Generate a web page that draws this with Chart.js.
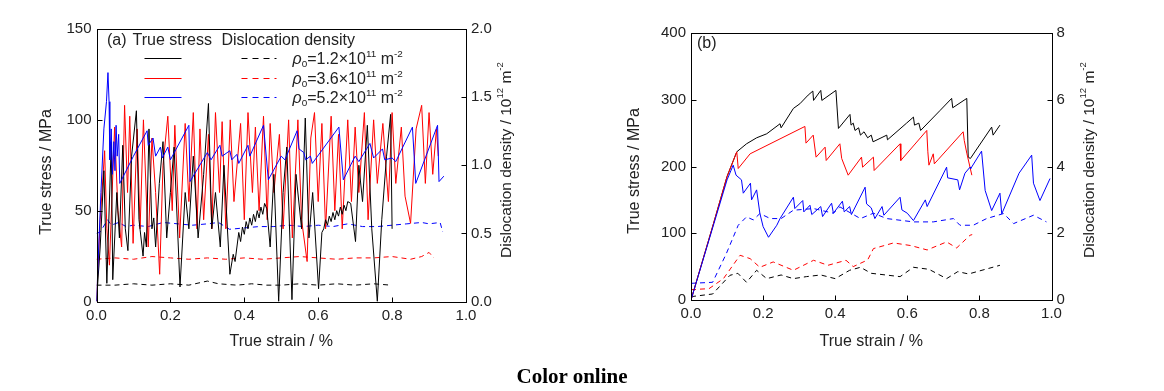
<!DOCTYPE html>
<html>
<head>
<meta charset="utf-8">
<script src="https://cdn.jsdelivr.net/npm/chart.js@4.4.0/dist/chart.umd.min.js"></script>
<style>
  body { margin: 0; background: #fff; }
  #wrap { position: relative; width: 1164px; height: 391px; }
  #chartA { position: absolute; left: 0; top: 0; }
  #chartB { position: absolute; left: 580px; top: 0; }
  #note { position: absolute; left: 0; width: 1144px; top: 364px; text-align: center;
          font: bold 21px "Liberation Serif", "Times New Roman", serif; color: #000; }
</style>
</head>
<body>
<div id="wrap">
  <canvas id="chartA" width="580" height="391"></canvas>
  <canvas id="chartB" width="584" height="391"></canvas>
  <div id="note">Color online</div>
</div>
<script>
// ---- panel (a): true stress (MPa) and dislocation density (1e12 m^-2) vs true strain (%)
var aStressBlack = [[0,0],[0.01,30],[0.02,72],[0.028,10],[0.04,88],[0.044,12],[0.055,60],[0.062,35],[0.071,86],[0.078,40],[0.085,28],[0.095,80],[0.108,105],[0.115,45],[0.126,25],[0.13,38],[0.135,30],[0.142,95],[0.15,40],[0.155,46],[0.16,30],[0.17,65],[0.18,88],[0.19,35],[0.2,60],[0.21,85],[0.226,8],[0.24,60],[0.25,40],[0.262,80],[0.275,35],[0.29,70],[0.303,109],[0.312,40],[0.322,60],[0.335,30],[0.345,75],[0.361,15],[0.37,26],[0.375,22],[0.38,30],[0.385,38],[0.39,33],[0.395,41],[0.4,37],[0.405,44],[0.41,40],[0.415,46],[0.42,42],[0.425,48],[0.43,44],[0.435,50],[0.44,46],[0.445,52],[0.45,48],[0.455,54],[0.461,51],[0.47,30],[0.48,70],[0.493,0],[0.505,60],[0.515,85],[0.529,1],[0.54,70],[0.555,40],[0.565,101],[0.575,35],[0.585,60],[0.601,7],[0.61,38],[0.615,40],[0.62,45],[0.625,42],[0.63,47],[0.635,44],[0.64,49],[0.645,45],[0.65,50],[0.655,47],[0.66,52],[0.665,48],[0.67,53],[0.675,50],[0.68,55],[0.688,54],[0.701,33],[0.71,75],[0.72,55],[0.733,97],[0.745,40],[0.76,0],[0.772,45],[0.785,80],[0.796,103],[0.8,40]];
var aStressRed = [[0,0],[0.01,45],[0.022,83],[0.028,40],[0.035,20],[0.049,96],[0.058,50],[0.068,30],[0.076,108],[0.084,60],[0.09,102],[0.099,32],[0.11,95],[0.118,40],[0.127,100],[0.14,30],[0.15,90],[0.16,60],[0.171,15],[0.18,75],[0.193,102],[0.205,50],[0.212,97],[0.225,35],[0.24,98],[0.25,55],[0.262,104],[0.272,40],[0.28,95],[0.29,45],[0.303,92],[0.312,40],[0.322,104],[0.333,60],[0.34,99],[0.35,40],[0.362,100],[0.372,55],[0.39,98],[0.4,45],[0.41,104],[0.422,60],[0.43,96],[0.44,50],[0.452,102],[0.462,45],[0.47,98],[0.48,60],[0.495,92],[0.505,40],[0.52,100],[0.53,35],[0.545,100],[0.555,45],[0.57,22],[0.58,90],[0.59,104],[0.6,55],[0.61,98],[0.62,40],[0.635,102],[0.645,50],[0.655,92],[0.665,40],[0.68,100],[0.69,55],[0.7,96],[0.71,60],[0.725,104],[0.735,45],[0.75,100],[0.76,65],[0.775,98],[0.79,55],[0.8,104],[0.81,65],[0.825,96],[0.835,58],[0.85,43],[0.865,95],[0.88,108],[0.89,65],[0.9,104],[0.91,70],[0.92,95],[0.925,80]];
var aStressBlue = [[0,0],[0.012,60],[0.02,95],[0.027,110],[0.031,126],[0.034,110],[0.036,78],[0.04,95],[0.043,70],[0.047,88],[0.05,72],[0.053,97],[0.056,80],[0.06,92],[0.063,65],[0.1,80],[0.137,94],[0.14,86],[0.153,90],[0.16,80],[0.173,85],[0.178,79],[0.193,85],[0.2,78],[0.25,97],[0.253,66],[0.3,82],[0.31,78],[0.334,86],[0.34,80],[0.361,83],[0.366,78],[0.38,81],[0.385,76],[0.41,86],[0.415,80],[0.452,97],[0.465,67],[0.5,80],[0.51,78],[0.543,94],[0.548,84],[0.561,82],[0.566,78],[0.579,80],[0.584,76],[0.656,96],[0.668,67],[0.7,80],[0.71,77],[0.74,87],[0.75,79],[0.774,84],[0.78,78],[0.8,79],[0.81,77],[0.855,96],[0.864,65],[0.923,97],[0.927,66],[0.94,69]];
var aDensityBlack = [[0,0.12],[0.05,0.12],[0.1,0.13],[0.15,0.12],[0.2,0.13],[0.25,0.12],[0.3,0.15],[0.33,0.13],[0.38,0.12],[0.42,0.13],[0.46,0.12],[0.5,0.12],[0.55,0.13],[0.6,0.12],[0.65,0.13],[0.7,0.12],[0.75,0.13],[0.796,0.12]];
var aDensityRed = [[0,0.31],[0.05,0.32],[0.1,0.31],[0.15,0.33],[0.2,0.32],[0.25,0.31],[0.3,0.32],[0.35,0.31],[0.4,0.32],[0.45,0.31],[0.5,0.32],[0.55,0.33],[0.6,0.32],[0.65,0.31],[0.7,0.32],[0.75,0.32],[0.8,0.33],[0.85,0.31],[0.88,0.33],[0.9,0.36],[0.913,0.32]];
var aDensityBlue = [[0,0.5],[0.01,0.51],[0.03,0.6],[0.04,0.56],[0.06,0.58],[0.08,0.55],[0.1,0.56],[0.14,0.55],[0.18,0.58],[0.22,0.57],[0.26,0.56],[0.3,0.57],[0.33,0.58],[0.36,0.53],[0.4,0.54],[0.44,0.55],[0.48,0.55],[0.52,0.56],[0.56,0.55],[0.6,0.56],[0.64,0.55],[0.68,0.57],[0.72,0.55],[0.76,0.55],[0.8,0.56],[0.84,0.57],[0.88,0.58],[0.9,0.57],[0.93,0.58],[0.937,0.51]];

// ---- panel (b)
var bStressBlack = [[0,0],[0.06,110],[0.1,185],[0.127,222],[0.154,234],[0.182,243],[0.21,249],[0.247,264],[0.25,258],[0.284,287],[0.302,294],[0.325,307],[0.338,313],[0.34,299],[0.36,314],[0.363,299],[0.402,314],[0.409,257],[0.441,278],[0.444,262],[0.45,265],[0.455,254],[0.465,258],[0.47,247],[0.48,252],[0.49,243],[0.5,247],[0.505,237],[0.543,247],[0.545,240],[0.598,265],[0.617,274],[0.62,262],[0.632,265],[0.637,254],[0.691,284],[0.723,302],[0.726,288],[0.765,302],[0.769,214],[0.775,212],[0.834,259],[0.838,247],[0.857,262]];
var bStressRed = [[0,0],[0.06,110],[0.1,185],[0.127,222],[0.131,197],[0.164,219],[0.316,260],[0.319,235],[0.339,247],[0.347,214],[0.372,229],[0.375,209],[0.413,234],[0.418,212],[0.436,187],[0.473,214],[0.476,199],[0.506,214],[0.508,194],[0.58,234],[0.582,209],[0.654,254],[0.657,222],[0.66,202],[0.672,219],[0.675,204],[0.685,210],[0.755,252],[0.758,239],[0.765,220],[0.779,187]];
var bStressBlue = [[0,0],[0.06,108],[0.1,180],[0.117,202],[0.125,187],[0.14,180],[0.145,160],[0.165,175],[0.168,150],[0.182,165],[0.191,130],[0.2,110],[0.215,94],[0.238,112],[0.247,122],[0.284,154],[0.288,137],[0.31,149],[0.313,132],[0.33,142],[0.335,128],[0.36,140],[0.365,125],[0.39,145],[0.395,130],[0.42,148],[0.425,132],[0.44,140],[0.445,128],[0.483,169],[0.487,144],[0.5,138],[0.51,122],[0.53,140],[0.535,127],[0.58,154],[0.585,135],[0.6,130],[0.617,119],[0.65,150],[0.655,140],[0.709,199],[0.712,183],[0.74,180],[0.745,165],[0.76,190],[0.774,199],[0.776,197],[0.806,223],[0.816,164],[0.834,134],[0.857,160],[0.862,129],[0.91,190],[0.945,217],[0.95,175],[0.968,149],[0.996,182]];
var bDensityBlack = [[0,0.1],[0.06,0.18],[0.108,0.74],[0.13,0.8],[0.154,0.53],[0.182,0.89],[0.21,0.64],[0.25,0.75],[0.284,0.64],[0.32,0.7],[0.36,0.75],[0.4,0.64],[0.44,0.89],[0.47,0.98],[0.5,0.8],[0.54,0.75],[0.58,0.7],[0.617,0.98],[0.66,0.92],[0.709,0.64],[0.74,0.85],[0.77,0.78],[0.81,0.9],[0.857,1.04]];
var bDensityRed = [[0,0.31],[0.05,0.34],[0.09,0.64],[0.136,1.34],[0.164,1.24],[0.191,0.98],[0.228,1.14],[0.284,0.89],[0.34,1.19],[0.38,1.04],[0.43,1.19],[0.45,1.0],[0.49,1.2],[0.506,1.54],[0.562,1.71],[0.61,1.63],[0.655,1.5],[0.709,1.74],[0.737,1.56],[0.774,1.94],[0.78,1.96]];
var bDensityBlue = [[0,0.5],[0.06,0.53],[0.098,1.39],[0.131,2.24],[0.154,2.49],[0.173,2.4],[0.191,2.59],[0.22,2.44],[0.25,2.44],[0.284,2.69],[0.34,2.74],[0.395,2.6],[0.413,2.79],[0.47,2.44],[0.506,2.6],[0.543,2.44],[0.617,2.34],[0.672,2.34],[0.728,2.44],[0.746,2.24],[0.783,2.24],[0.82,2.44],[0.867,2.59],[0.895,2.29],[0.95,2.54],[0.986,2.34]];

var legendLabels = [["1.2"], ["3.6"], ["5.2"]];
var BLACK = "#000000", RED = "#ff0000", BLUE = "#0000ff";
var FONT = '"Liberation Sans", Arial, sans-serif';

function pts(arr) { return arr.map(function (p) { return {x: p[0], y: p[1]}; }); }

function line(data, color, axis, dashed) {
  return {
    data: pts(data), borderColor: color, borderWidth: 1, borderDash: dashed ? [5, 4] : [],
    pointRadius: 0, tension: 0, fill: false, yAxisID: axis, parsing: false
  };
}

// draw text made of pieces (superscripts, subscripts, italics), centred on x
function richText(ctx, parts, x, y, size, align) {
  var w = 0;
  parts.forEach(function (p) {
    p.fs = (p.sup || p.sub) ? size * 0.62 : size;
    ctx.font = (p.it ? "italic " : "") + p.fs + "px " + FONT;
    p.w = ctx.measureText(p.t).width;
    w += p.w;
  });
  var cx = align === "left" ? x : x - w / 2;
  parts.forEach(function (p) {
    ctx.font = (p.it ? "italic " : "") + p.fs + "px " + FONT;
    var dy = p.sup ? -size * 0.42 : (p.sub ? size * 0.22 : 0);
    ctx.fillText(p.t, cx, y + dy);
    cx += p.w;
  });
}

var frame = {
  id: "frame",
  afterDraw: function (chart) {
    var ctx = chart.ctx, a = chart.chartArea, o = chart.options.plugins.frame;
    ctx.save();
    ctx.strokeStyle = "#000";
    ctx.lineWidth = 1;
    var L = Math.round(a.left) + 0.5, R = Math.round(a.right) + 0.5;
    var T = Math.round(a.top) + 0.5, B = Math.round(a.bottom) + 0.5;
    ctx.strokeRect(L, T, R - L, B - T);
    // inward ticks
    ctx.beginPath();
    chart.scales.x.ticks.forEach(function (t) {
      var px = Math.round(chart.scales.x.getPixelForValue(t.value)) + 0.5;
      ctx.moveTo(px, B); ctx.lineTo(px, B - 5);
    });
    chart.scales.y.ticks.forEach(function (t) {
      var py = Math.round(chart.scales.y.getPixelForValue(t.value)) + 0.5;
      ctx.moveTo(L, py); ctx.lineTo(L + 5, py);
    });
    chart.scales.y1.ticks.forEach(function (t) {
      var py = Math.round(chart.scales.y1.getPixelForValue(t.value)) + 0.5;
      ctx.moveTo(R, py); ctx.lineTo(R - 5, py);
    });
    ctx.stroke();

    // axis titles
    ctx.fillStyle = "#222";
    ctx.textBaseline = "middle";
    ctx.textAlign = "left";
    richText(ctx, [{t: "True strain / %"}], (a.left + a.right) / 2, o.xTitleY, 16);
    ctx.save();
    ctx.translate(o.yTitleX, o.yTitleY);
    ctx.rotate(-Math.PI / 2);
    richText(ctx, [{t: "True stress / MPa"}], 0, 0, 16);
    ctx.restore();
    ctx.save();
    ctx.translate(o.y1TitleX, o.y1TitleY);
    ctx.rotate(-Math.PI / 2);
    richText(ctx, [{t: "Dislocation density / 10"}, {t: "12", sup: true}, {t: " m"}, {t: "-2", sup: true}], 0, 0, 15.5);
    ctx.restore();

    // panel letter
    ctx.textBaseline = "alphabetic";
    richText(ctx, [{t: o.letter}], o.letterX, o.letterY, 16, "left");

    // legend (panel a only)
    if (o.legend) {
      richText(ctx, [{t: "True stress"}], a.left + 36, o.letterY, 16, "left");
      richText(ctx, [{t: "Dislocation density"}], a.left + 125, o.letterY, 16, "left");
      var ds = chart.data.datasets;
      for (var i = 0; i < 3; i++) {
        var y = Math.round(a.top + 29 + i * 19.5) + 0.5;
        var solid = ds[o.legendSolid[i]], dash = ds[o.legendDash[i]];
        ctx.lineWidth = 1;
        ctx.strokeStyle = solid.borderColor;
        ctx.setLineDash([]);
        ctx.beginPath(); ctx.moveTo(a.left + 48, y); ctx.lineTo(a.left + 85, y); ctx.stroke();
        ctx.strokeStyle = dash.borderColor;
        ctx.setLineDash([6, 5]);
        ctx.beginPath(); ctx.moveTo(a.left + 145, y); ctx.lineTo(a.left + 180, y); ctx.stroke();
        ctx.setLineDash([]);
        ctx.fillStyle = "#222";
        richText(ctx, [{t: "\u03c1", it: true}, {t: "0", sub: true}, {t: "=" + legendLabels[i][0] + "\u00d710"},
                       {t: "11", sup: true}, {t: " m"}, {t: "-2", sup: true}], a.left + 196, y + 5, 16, "left");
      }
    }
    ctx.restore();
  }
};

function tickFont() { return {family: FONT, size: 15}; }

function makeChart(id, datasets, cfg) {
  return new Chart(document.getElementById(id), {
    type: "line",
    data: {datasets: datasets},
    options: {
      responsive: false,
      animation: false,
      layout: {padding: {top: cfg.top, left: 0, right: 0, bottom: 0}},
      plugins: {legend: {display: false}, tooltip: {enabled: false}, frame: cfg.frame},
      scales: {
        x: {
          type: "linear", min: 0, max: 1, position: "bottom",
          ticks: {stepSize: 0.2, padding: 5, color: "#222", font: tickFont(), maxRotation: 0,
                  callback: function (v) { return v.toFixed(1); }},
          grid: {drawOnChartArea: false, drawTicks: false}, border: {display: false},
          afterFit: function (s) { s.height = cfg.xHeight; }
        },
        y: {
          type: "linear", min: 0, max: cfg.yMax, position: "left",
          ticks: {stepSize: cfg.yStep, padding: 5, color: "#222", font: tickFont()},
          grid: {drawOnChartArea: false, drawTicks: false}, border: {display: false},
          afterFit: function (s) { s.width = cfg.yWidth; }
        },
        y1: {
          type: "linear", min: 0, max: cfg.y1Max, position: "right",
          ticks: {stepSize: cfg.y1Step, padding: 5, color: "#222", font: tickFont(),
                  callback: function (v) { return cfg.y1Fmt(v); }},
          grid: {drawOnChartArea: false, drawTicks: false}, border: {display: false},
          afterFit: function (s) { s.width = cfg.y1Width; }
        }
      }
    },
    plugins: [frame]
  });
}

makeChart("chartA", [
  line(aStressBlue, BLUE, "y"),
  line(aStressBlack, BLACK, "y"),
  line(aStressRed, RED, "y"),
  line(aDensityBlue, BLUE, "y1", true),
  line(aDensityRed, RED, "y1", true),
  line(aDensityBlack, BLACK, "y1", true)
], {
  top: 29, xHeight: 89.5, yWidth: 96.5, y1Width: 114, yMax: 150, yStep: 50, y1Max: 2, y1Step: 0.5,
  y1Fmt: function (v) { return v.toFixed(1); },
  frame: {xTitleY: 342, yTitleX: 47, yTitleY: 172, y1TitleX: 507, y1TitleY: 160,
          letter: "(a)", letterX: 107, letterY: 45, legend: true,
          legendSolid: [1, 2, 0], legendDash: [5, 4, 3]}
});

makeChart("chartB", [
  line(bStressBlue, BLUE, "y"),
  line(bStressRed, RED, "y"),
  line(bStressBlack, BLACK, "y"),
  line(bDensityBlue, BLUE, "y1", true),
  line(bDensityRed, RED, "y1", true),
  line(bDensityBlack, BLACK, "y1", true)
], {
  top: 33, xHeight: 91, yWidth: 111, y1Width: 112.5, yMax: 400, yStep: 100, y1Max: 8, y1Step: 2,
  y1Fmt: function (v) { return String(v); },
  frame: {xTitleY: 342, yTitleX: 55, yTitleY: 171, y1TitleX: 510, y1TitleY: 160,
          letter: "(b)", letterX: 117, letterY: 48, legend: false}
});
</script>
</body>
</html>
